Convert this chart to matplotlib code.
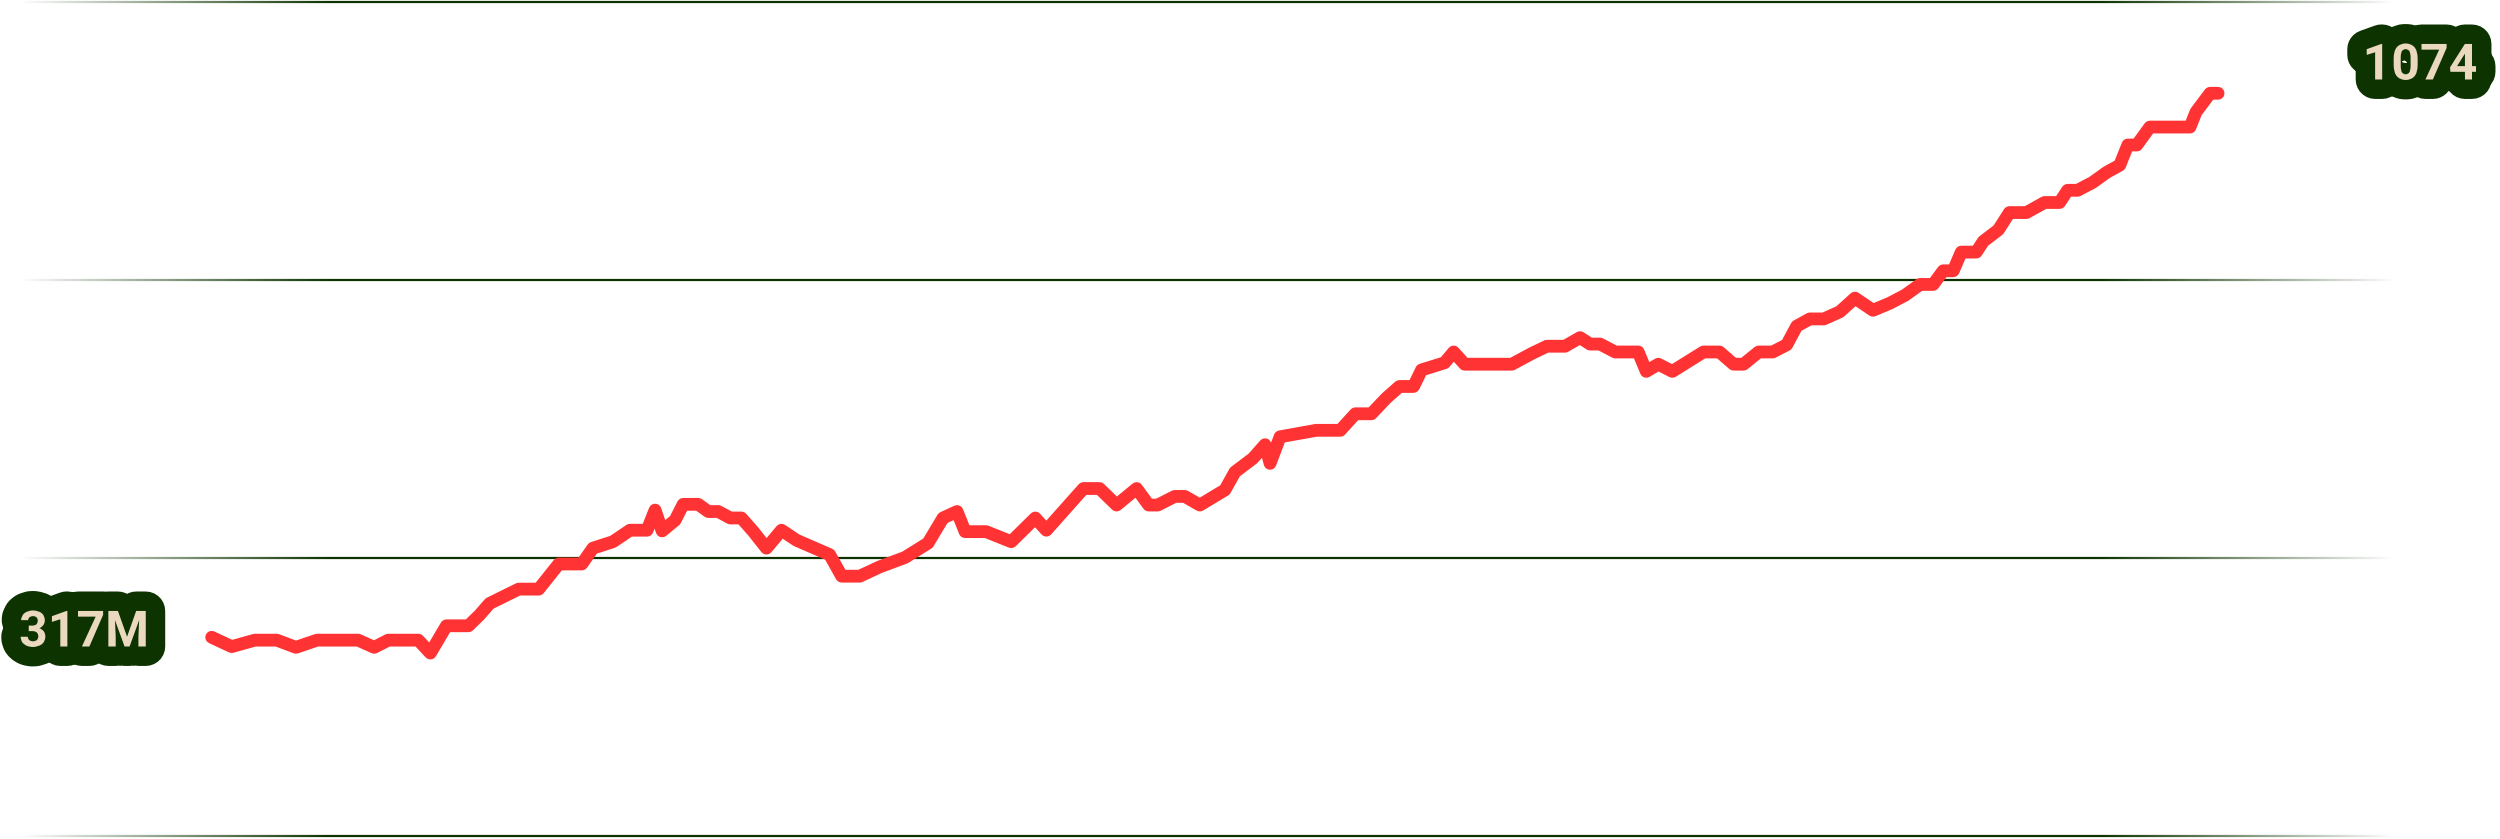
import numpy as np
import matplotlib
matplotlib.use("Agg")
import matplotlib.pyplot as plt
import matplotlib.patheffects as pe
from matplotlib.collections import LineCollection

# series (x = day index, y = value)
days = [0, 2.0, 4.3, 6.5, 8.4, 10.5, 14.6, 16.2, 17.6, 20.6,
        21.8, 23.4, 25.6, 26.7, 27.7, 30.6, 32.6, 34.6, 36.9, 38.0,
        40.0, 41.7, 43.4, 44.2, 44.9, 46.2, 47.0, 48.5, 49.5, 50.5,
        51.7, 52.8, 54.0, 55.3, 56.8, 58.3, 61.6, 62.8, 64.6, 66.6,
        69.1, 71.4, 72.9, 74.3, 75.1, 77.2, 79.7, 82.1, 83.2, 86.9,
        88.5, 90.2, 92.2, 93.4, 94.3, 96.0, 97.0, 98.5, 101.0, 102.0,
        103.8, 105.0, 105.5, 106.5, 110.1, 112.5, 114.0, 115.6, 117.1, 118.4,
        119.8, 120.6, 122.9, 123.8, 124.9, 129.6, 131.6, 133.1, 134.9, 136.4,
        137.4, 138.4, 139.9, 142.2, 143.0, 144.2, 145.6, 148.7, 150.3, 151.7,
        152.7, 154.2, 155.6, 157.0, 158.0, 159.3, 160.7, 162.3, 163.8, 165.6,
        167.3, 168.8, 170.3, 171.6, 172.6, 173.6, 174.4, 175.9, 176.6, 178.1,
        179.2, 180.9, 182.7, 184.2, 185.0, 186.0, 187.5, 188.9, 190.2, 191.0,
        191.9, 193.2, 197.2, 197.8, 199.2, 200.0]
values = [317, 304, 313, 313, 303, 313, 313, 303, 313, 313,
          295, 333, 333, 348, 364, 384, 384, 419, 419, 441,
          450, 466, 466, 494, 465, 480, 502, 502, 492, 492,
          483, 483, 464, 441, 466, 452, 432, 402, 402, 415,
          428, 448, 483, 492, 464, 464, 450, 483, 466, 524,
          524, 501, 524, 501, 501, 513, 513, 501, 522, 547,
          566, 585, 559, 596, 605, 605, 628, 628, 650, 666,
          666, 689, 699, 714, 697, 697, 712, 722, 722, 734,
          725, 725, 714, 714, 687, 697, 687, 714, 714, 697,
          697, 714, 714, 724, 750, 760, 760, 770, 789, 772,
          782, 793, 808, 808, 827, 827, 853, 853, 868, 884,
          908, 908, 922, 922, 939, 939, 950, 964, 974, 1002,
          1002, 1027, 1027, 1048, 1074, 1074]

grid_vals = [40, 427, 814, 1201]
start_label = "317M"
end_label = "1074"

line_red = "#FF3333"
dark_green = "#0D3300"
cream = "#EAD9BF"

fig = plt.figure(figsize=(25, 8.39), dpi=100)
ax = fig.add_axes([0, 0, 1, 1])
ax.axis("off")
ax.set_xlim(-21.1, 228.1)
ax.set_ylim(36.3, 1203.8)

# gridlines that fade out at both ends
xs = np.linspace(0.008, 0.958, 500)
alpha = np.clip(np.minimum((xs - 0.008) / 0.124, (0.958 - xs) / 0.118), 0, 1)
rgb = matplotlib.colors.to_rgb(dark_green)
cols = [(rgb[0], rgb[1], rgb[2], a) for a in (alpha[:-1] + alpha[1:]) / 2]
for g in grid_vals:
    segs = [[(xs[i], g), (xs[i + 1], g)] for i in range(len(xs) - 1)]
    lc = LineCollection(segs, colors=cols, linewidths=1.6,
                        transform=ax.get_yaxis_transform(), zorder=1)
    ax.add_collection(lc)

ax.plot(days, values, color=line_red, linewidth=9.2,
        solid_capstyle="round", solid_joinstyle="round", zorder=3)

stroke = [pe.withStroke(linewidth=28, foreground=dark_green)]
fig.text(84 / 2500, 1 - 633 / 839, start_label, fontsize=36,
         family=["Roboto", "DejaVu Sans"], fontweight="bold", color=cream,
         ha="center", va="center", path_effects=stroke, zorder=5)
fig.text(2420 / 2500, 1 - 66 / 839, end_label, fontsize=36,
         family=["Roboto", "DejaVu Sans"], fontweight="bold", color=cream,
         ha="center", va="center", path_effects=stroke, zorder=5)

fig.savefig("out.png", dpi=100, facecolor="white")
